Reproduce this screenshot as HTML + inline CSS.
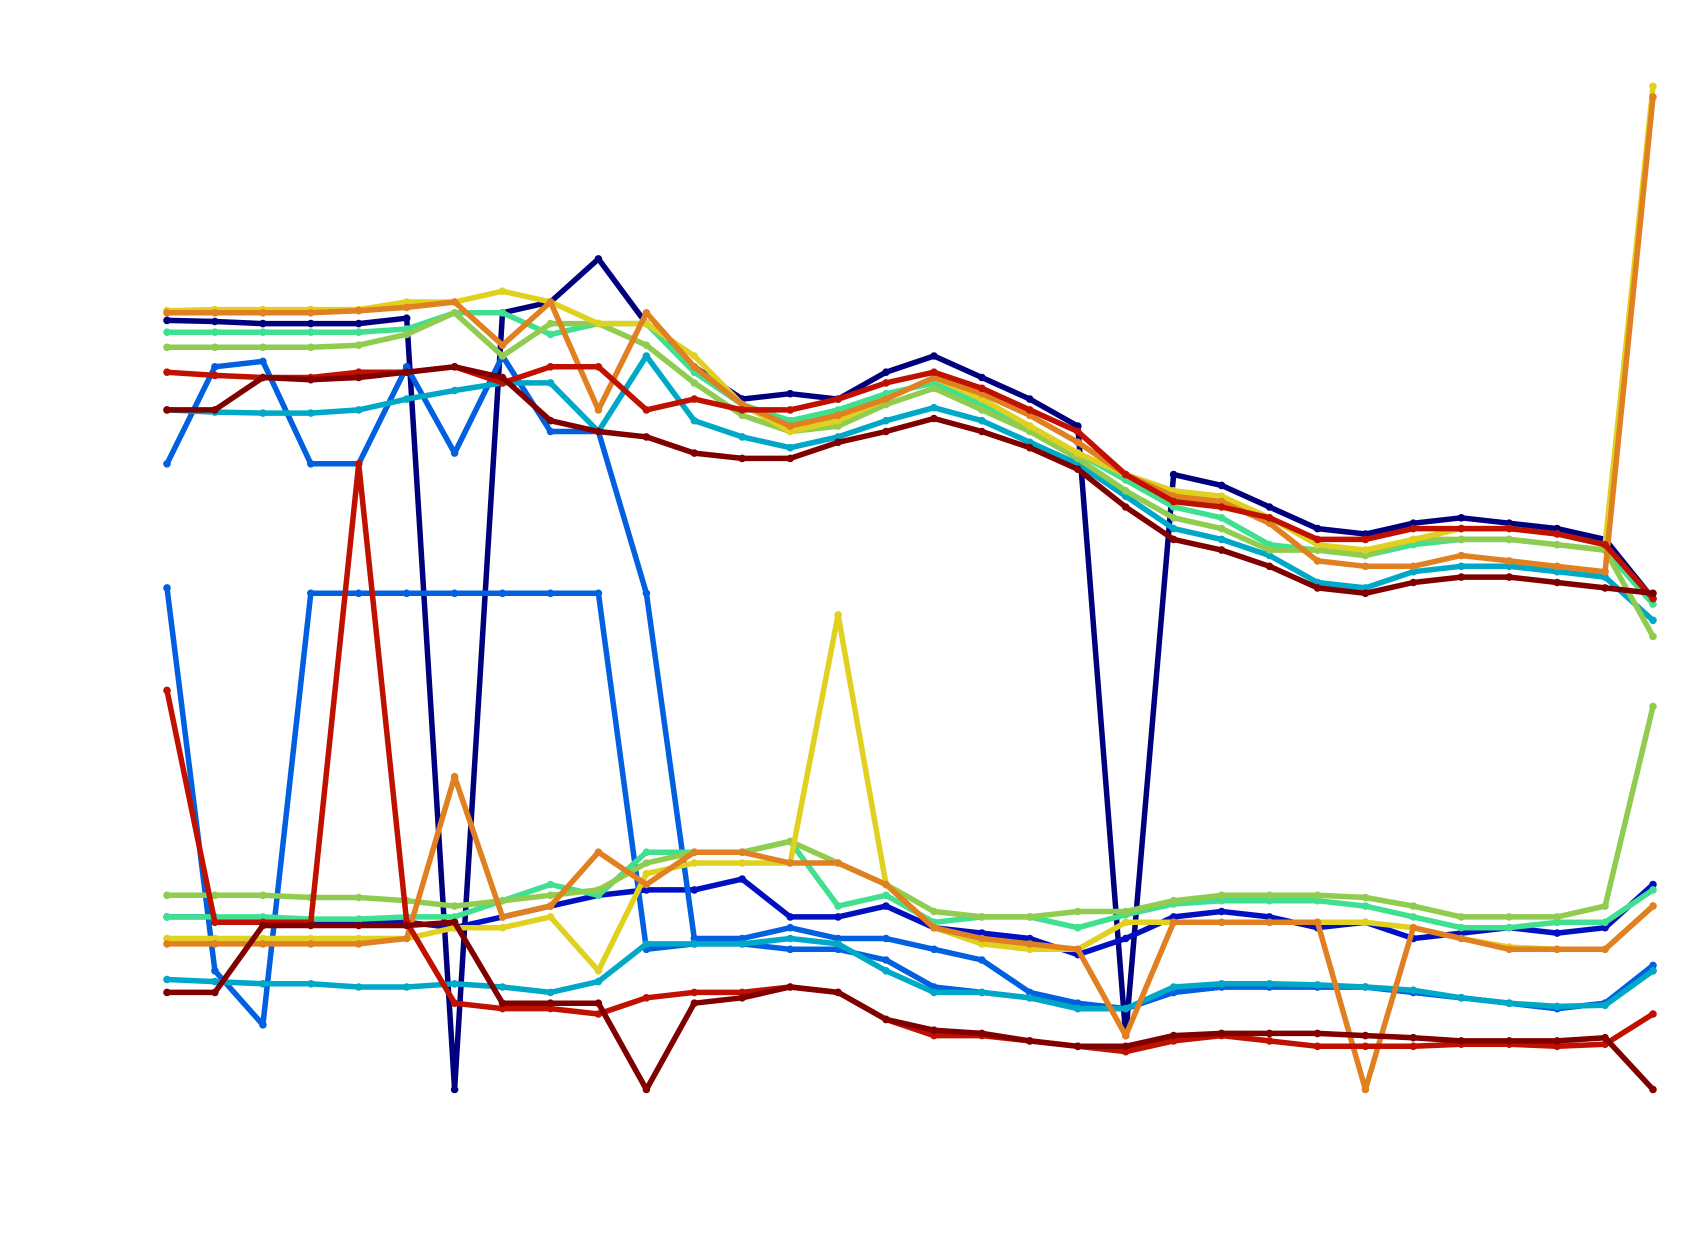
<!DOCTYPE html>
<html><head><meta charset="utf-8"><title>Multi-series line chart</title>
<style>html,body{margin:0;padding:0;background:#fff;}svg{display:block;font-family:"Liberation Sans",sans-serif;}</style>
</head><body>
<svg id="chart" width="1683" height="1234" viewBox="0 0 1683 1234" xmlns="http://www.w3.org/2000/svg">
<rect x="0" y="0" width="1683" height="1234" fill="#ffffff"/>
<g id="plot"></g>
</svg>
<script>
const pointCount = 32;
const colors = ["#00007f","#0010c0","#0060e0","#0060e0","#00a8c8","#00a8c8","#40e090","#40e090","#90cc50","#90cc50","#e0d020","#e0d020","#e08020","#e08020","#c01000","#c01000","#800000","#800000"];
const s1 = [763,762,760,760,760,765,50,770,780,820,760,720,690,695,690,715,730,710,690,665,100,620,610,590,570,565,575,580,575,570,560,505];
const s2 = [210,210,205,205,205,205,200,210,220,230,235,235,245,210,210,220,200,195,190,175,190,210,215,210,200,205,190,195,200,195,200,240];
const s3 = [630,720,725,630,630,720,640,730,660,660,510,190,190,200,190,190,180,170,140,130,125,140,145,145,145,145,140,135,130,125,130,160];
const s4 = [515,160,110,510,510,510,510,510,510,510,180,185,185,180,180,170,145,140,135,125,125,140,145,145,145,145,140,135,130,125,130,165];
const s5 = [680,678,677,677,680,690,698,705,705,660,730,670,655,645,655,670,682,670,650,630,600,570,560,545,520,515,530,535,535,530,525,485];
const s6 = [152,150,148,148,145,145,148,145,140,150,185,185,185,190,185,160,140,140,135,125,125,145,148,148,147,145,142,135,130,127,128,160];
const s7 = [752,752,752,752,752,755,770,770,750,760,760,715,685,670,680,695,705,685,665,640,615,590,580,555,550,545,555,560,560,555,550,500];
const s8 = [210,210,210,208,208,210,210,225,240,230,270,270,270,280,220,230,205,210,210,200,212,222,225,225,225,220,210,200,200,205,205,235];
const s9 = [738,738,738,738,740,750,770,730,760,760,740,705,675,660,665,685,700,680,660,635,605,580,570,550,550,545,560,560,560,555,550,470];
const s10 = [230,230,230,228,228,225,220,225,230,235,260,270,270,280,260,240,215,210,210,215,215,225,230,230,230,228,220,210,210,210,220,405];
const s11 = [772,773,773,773,773,780,780,790,780,760,760,730,685,660,670,690,710,690,665,640,620,605,600,580,555,550,560,570,570,565,555,980];
const s12 = [190,190,190,190,190,190,200,200,210,160,250,260,260,260,490,240,200,185,180,180,205,205,205,205,205,205,200,190,182,180,180,220];
const s13 = [770,770,770,770,772,775,780,740,780,680,770,720,685,665,675,690,710,695,675,650,620,600,595,575,540,535,535,545,540,535,530,970];
const s14 = [185,185,185,185,185,190,340,210,220,270,240,270,270,260,260,240,200,190,185,180,100,205,205,205,205,50,200,190,180,180,180,220];
const s15 = [715,712,710,710,715,715,720,705,720,720,680,690,680,680,690,705,715,700,680,660,620,595,590,580,560,560,570,570,570,565,555,505];
const s16 = [420,205,205,205,630,205,130,125,125,120,135,140,140,145,140,115,100,100,95,90,85,95,100,95,90,90,90,92,92,90,92,120];
const s17 = [680,680,710,708,710,715,720,710,670,660,655,640,635,635,650,660,672,660,645,625,590,560,550,535,515,510,520,525,525,520,515,510];
const s18 = [140,140,202,202,202,202,205,130,130,130,50,130,135,145,140,115,105,102,95,90,90,100,102,102,102,100,98,95,95,95,98,50];
const seriesList = [s1,s2,s3,s4,s5,s6,s7,s8,s9,s10,s11,s12,s13,s14,s15,s16,s17,s18];

const xMin = 167, xMax = 1653;
function xScale(i){ return xMin + (xMax - xMin) * i / (pointCount - 1); }
function yScale(v){ return (1060 - v) * 1.0787; }

const NS = "http://www.w3.org/2000/svg";
const plot = document.getElementById("plot");
seriesList.forEach(function(vals, si){
  const g = document.createElementNS(NS, "g");
  
  
  const pts = vals.map(function(v, i){ return xScale(i).toFixed(1) + "," + yScale(v).toFixed(1); }).join(" ");
  const line = document.createElementNS(NS, "polyline");
  
  
  line.setAttribute("points", pts);
  line.setAttribute("fill", "none");
  line.setAttribute("stroke", colors[si]);
  line.setAttribute("stroke-width", "5.5");
  line.setAttribute("stroke-linejoin", "round");
  g.appendChild(line);
  vals.forEach(function(v, i){
    const c = document.createElementNS(NS, "circle");
    
    
    c.setAttribute("cx", xScale(i).toFixed(1));
    c.setAttribute("cy", yScale(v).toFixed(1));
    c.setAttribute("r", "3.8");
    c.setAttribute("fill", colors[si]);
    g.appendChild(c);
  });
  plot.appendChild(g);
});
</script>
</body></html>
